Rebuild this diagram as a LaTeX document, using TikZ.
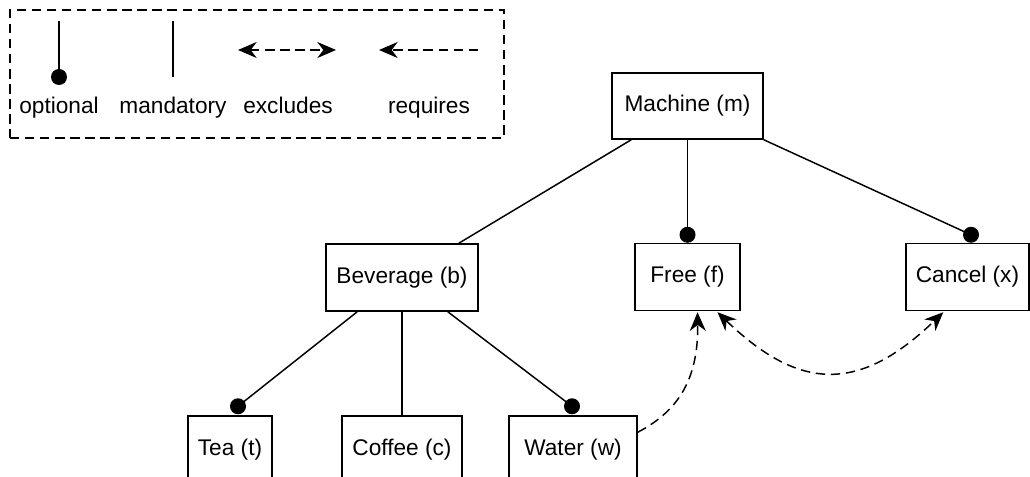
\documentclass[tikz,border=0pt]{standalone}
\usepackage{fontspec}
\setmainfont{Liberation Sans}
\usetikzlibrary{arrows.meta,calc}
\def\px{0.75pt}
\tikzset{
  feat/.style={draw, line width=1.1pt, inner sep=0pt, minimum height=67*\px, font=\fontsize{17}{20}\selectfont},
  edge/.style={line width=1.1pt},
  dotend/.style={fill=black},
  dashline/.style={line width=1.1pt, dash pattern=on 7pt off 4.3pt},
  arr/.tip={Stealth[length=14pt,width=12pt,inset=4.5pt]},
  tip/.style={-arr},
  biarr/.style={arr-arr},
  lbl/.style={anchor=base, inner sep=0pt, font=\fontsize{17}{20}\selectfont}
}
\begin{document}
\begin{tikzpicture}[x=0.75pt,y=-0.75pt]
\useasboundingbox (0,0) rectangle (1030,477);
\clip (0,0) rectangle (1030,477);
% legend
\node[draw, dashline, inner sep=0pt, minimum width=494*\px, minimum height=128*\px] (legend) at (257,74) {};
\coordinate (o1) at (59,21);
\coordinate (o2) at (59,77);
\coordinate (m1) at (173,21);
\coordinate (m2) at (173,77);
\coordinate (e1) at (238,50);
\coordinate (e2) at (336,50);
\coordinate (r1) at (478,50);
\coordinate (r2) at (379,50);
\draw[edge] (o1) -- (o2);
\fill[dotend] (o2) circle[radius=6pt];
\draw[edge] (m1) -- (m2);
\draw[dashline, biarr] (e1) -- (e2);
\draw[dashline, tip] (r1) -- (r2);
\node[lbl] (lo) at (59,114) {optional};
\node[lbl] (lm) at (173,114) {mandatory};
\node[lbl] (le) at (288,114) {excludes};
\node[lbl] (lr) at (429,114) {requires};
% features
\node[feat, minimum width=151*\px, minimum height=66*\px] (m) at (687.5,106) {Machine (m)};
\node[feat, minimum width=152*\px] (b) at (402,277.5) {Beverage (b)};
\node[feat, minimum width=105*\px] (f) at (687.5,277) {Free (f)};
\node[feat, minimum width=123*\px] (x) at (967.5,277) {Cancel (x)};
\node[feat, minimum width=84*\px] (t) at (230,449.5) {Tea (t)};
\node[feat, minimum width=120*\px] (c) at (402,449.5) {Coffee (c)};
\node[feat, minimum width=128*\px] (w) at (573,449.5) {Water (w)};
% dots
\coordinate (df) at ($(f.north)+(0,-8)$);
\coordinate (dx) at ($(x.north)+(3.5,-8)$);
\coordinate (dt) at ($(t.north)+(8,-9)$);
\coordinate (dw) at ($(w.north)+(-1,-9)$);
% mandatory
\draw[edge] ($(m.south west)+(20,0)$) -- ($(b.north east)+(-20,0)$);
\draw[edge] (b.south) -- (c.north);
% optional
\draw[edge] (m.south) -- (df);
\draw[edge] (m.south east) -- (dx);
\draw[edge] ($(b.south west)+(32,0)$) -- (dt);
\draw[edge] ($(b.south east)+(-31,0)$) -- (dw);
\foreach \d in {df,dx,dt,dw} \fill[dotend] (\d) circle[radius=6pt];
% requires
\coordinate (ws) at ($(w.north east)+(0,17)$);
\coordinate (fe) at ($(f.south)+(10,1)$);
\draw[dashline, tip] (ws) .. controls ($(ws)+(38,-20)$) and ($(fe)+(1,70)$) .. (fe);
% excludes
\coordinate (fx) at ($(f.south)+(30,1)$);
\coordinate (xf) at ($(x.south west)+(38,1)$);
\draw[dashline, biarr] (fx) .. controls ($(fx)+(83,80)$) and ($(xf)+(-83,80)$) .. (xf);
\end{tikzpicture}
\end{document}
